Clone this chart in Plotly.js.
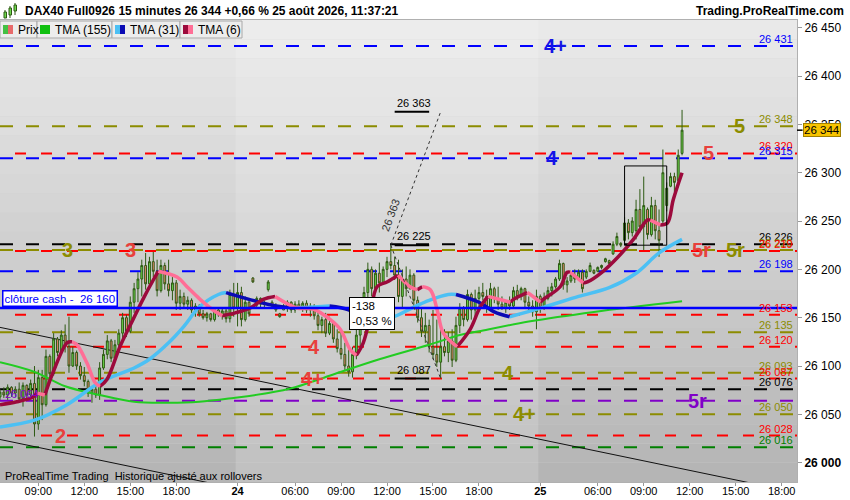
<!DOCTYPE html>
<html>
<head>
<meta charset="utf-8">
<script src="https://cdn.plot.ly/plotly-3.0.1.min.js"></script>
<style>body{margin:0;background:#fff}#chart{width:850px;height:500px}</style>
</head>
<body>
<div id="chart"></div>
<script>
// DAX40 Full0926, 15 min bars from 23 août 06:30 to 25 août 11:30 (night gaps collapsed, x = bar number)
var barOpen = [26068,26073,26070,26078,26072,26076,26066,26080,26070,26082,26040,26088,26060,26110,26092,26128,26114,26132,26120,26100,
  26114,26100,26090,26084,26072,26076,26070,26098,26112,26126,26108,26122,26134,26150,26136,26166,26180,26190,26204,26185,
  26208,26198,26178,26204,26185,26178,26186,26165,26172,26164,26168,26158,26162,26154,26150,26154,26148,26158,26153,26157,
  26149,26174,26160,26176,26148,26166,26191,26163,26170,26164,26179,26166,26162,26154,26158,26162,26166,26158,26164,26160,
  26165,26158,26162,26152,26142,26148,26134,26144,26128,26118,26112,26100,26094,26112,26132,26150,26176,26200,26180,26196,
  26186,26200,26208,26204,26194,26172,26190,26180,26194,26168,26150,26136,26142,26120,26112,26104,26120,26114,26126,26106,
  26142,26160,26148,26174,26158,26170,26176,26172,26160,26180,26170,26164,26160,26166,26162,26178,26172,26180,26166,26162,
  26156,26172,26160,26170,26178,26182,26190,26206,26184,26188,26194,26190,26197,26192,26198,26199,26198,26202,26208,26209,
  26216,26226,26227,26230,26248,26238,26240,26262,26244,26262,26236,26266,26240,26250,26266,26286,26296,26292,26320];
var barHigh = [26076,26078,26081,26079,26079,26083,26083,26081,26086,26100,26096,26096,26117,26112,26134,26130,26137,26143,26151,26120,
  26116,26104,26099,26086,26079,26083,26104,26117,26132,26128,26127,26138,26155,26153,26172,26186,26197,26210,26217,26213,
  26218,26210,26210,26207,26210,26192,26189,26179,26176,26172,26170,26165,26164,26158,26156,26155,26161,26161,26161,26161,
  26179,26186,26186,26182,26172,26168,26192,26172,26171,26168,26189,26168,26165,26155,26164,26168,26167,26167,26168,26167,
  26168,26165,26164,26158,26151,26155,26151,26145,26138,26135,26124,26117,26120,26138,26155,26182,26207,26203,26200,26207,
  26203,26213,26225,26213,26210,26200,26203,26200,26196,26172,26161,26155,26148,26158,26148,26138,26138,26135,26138,26151,
  26165,26162,26179,26176,26179,26182,26186,26179,26186,26182,26182,26172,26168,26172,26182,26184,26182,26181,26172,26168,
  26179,26174,26176,26182,26186,26192,26210,26207,26192,26197,26200,26200,26200,26200,26207,26200,26203,26205,26212,26210,
  26229,26238,26228,26254,26252,26254,26272,26283,26296,26264,26275,26272,26262,26324,26290,26300,26300,26324,26365];
var barLow = [26065,26067,26065,26068,26068,26062,26058,26065,26068,26027,26034,26044,26058,26086,26090,26110,26112,26114,26093,26099,
  26096,26086,26079,26068,26062,26067,26065,26096,26107,26104,26106,26117,26124,26130,26134,26155,26166,26172,26179,26183,
  26192,26172,26176,26179,26172,26168,26158,26158,26161,26158,26155,26151,26151,26148,26146,26146,26146,26151,26148,26145,
  26145,26151,26141,26141,26146,26151,26186,26161,26161,26160,26177,26160,26156,26150,26158,26156,26155,26155,26158,26156,
  26155,26151,26148,26137,26134,26130,26132,26124,26114,26107,26096,26089,26088,26107,26120,26148,26166,26172,26178,26176,
  26184,26192,26200,26189,26166,26161,26172,26179,26161,26145,26130,26124,26114,26107,26099,26087,26110,26104,26099,26104,
  26134,26141,26146,26148,26151,26161,26168,26155,26158,26165,26158,26158,26155,26158,26160,26168,26168,26161,26158,26151,
  26138,26155,26158,26168,26172,26180,26188,26179,26176,26186,26186,26189,26176,26190,26197,26195,26197,26200,26207,26205,
  26215,26224,26223,26228,26231,26234,26231,26238,26220,26231,26234,26231,26213,26248,26260,26285,26280,26290,26318];
var barClose = [26073,26070,26078,26072,26076,26066,26080,26070,26082,26040,26088,26060,26110,26092,26128,26114,26132,26120,26100,26114,
  26100,26090,26084,26072,26076,26070,26098,26112,26126,26108,26122,26134,26150,26136,26166,26180,26190,26204,26185,26208,
  26198,26178,26204,26185,26178,26186,26165,26172,26164,26168,26158,26162,26154,26150,26154,26148,26158,26153,26157,26149,
  26174,26160,26176,26148,26166,26154,26187,26170,26164,26166,26187,26162,26158,26151,26162,26166,26158,26164,26160,26165,
  26158,26162,26152,26142,26148,26134,26144,26128,26118,26112,26100,26094,26112,26132,26150,26176,26200,26180,26196,26186,
  26200,26208,26204,26194,26172,26190,26180,26194,26168,26150,26136,26142,26120,26112,26104,26120,26114,26126,26106,26142,
  26160,26148,26174,26158,26170,26176,26172,26160,26180,26170,26164,26160,26166,26162,26178,26172,26180,26166,26162,26156,
  26172,26160,26170,26178,26182,26190,26206,26184,26188,26194,26190,26197,26180,26198,26204,26196,26202,26204,26211,26206,
  26226,26234,26225,26248,26238,26250,26262,26244,26266,26236,26266,26240,26230,26300,26284,26296,26290,26318,26344];

// moving averages (bar number, value)
var tma155X = [0, 9, 17, 26, 35, 44, 52, 61, 70, 77, 86, 99, 112, 120, 125, 138, 155, 178];
var tma155Y = [26104, 26094, 26079, 26070, 26063, 26062, 26063, 26067, 26072, 26078, 26090, 26107, 26122, 26132, 26136, 26146, 26156, 26167];
var tma31X = [0, 9, 17.5, 26, 35, 39, 44, 48, 52, 57, 59, 65, 71, 77, 82, 86, 91, 95, 102, 108, 112, 117, 119, 125, 129, 133, 142, 151, 159, 166, 172, 178];
var tma31Y = [26037, 26044, 26060, 26083, 26098, 26107, 26124, 26141, 26161, 26174, 26176, 26169, 26163, 26160, 26161, 26162, 26158, 26148, 26150, 26161, 26168, 26174, 26174, 26166, 26156, 26151, 26161, 26172, 26181, 26196, 26217, 26231];
var tma6X = [0, 4.4, 8.6, 9.7, 11.7, 13.8, 17.5, 18.8, 20.1, 22.7, 24.8, 26.1, 27.9, 31.3, 34.7, 37.3, 40, 41.3, 46.2, 48.8,
  52.2, 55.6, 58, 61.4, 65.3, 68.7, 71.8, 77.5, 81.7, 86.2, 88.8, 91.4, 93, 94.8, 96.6, 98.4, 101, 103.9, 107, 108.9,
  110.2, 112.3, 114.1, 115.7, 119.3, 122.7, 125.3, 127.4, 133.2, 134, 137.6, 138.4, 141, 141.8, 146.2, 148, 148.8, 152.2, 153.3, 157.4,
  161.1, 165.3, 168.9, 169.7, 172.3, 174.2, 175.7, 178];
var tma6Y = [26060, 26063, 26068, 26072, 26070, 26093, 26124, 26125, 26122, 26103, 26083, 26079, 26086, 26120, 26148, 26169, 26189, 26198, 26192, 26182,
  26169, 26158, 26152, 26155, 26160, 26169, 26172, 26160, 26159, 26148, 26138, 26117, 26111, 26124, 26151, 26182, 26187, 26194, 26182, 26179,
  26182, 26179, 26158, 26134, 26120, 26138, 26161, 26172, 26166, 26169, 26176, 26174, 26166, 26169, 26182, 26197, 26197, 26186, 26187, 26198,
  26212, 26231, 26251, 26251, 26246, 26248, 26272, 26300];

// horizontal levels
var levelValues = [26431, 26348, 26320, 26315, 26226, 26220, 26219, 26198, 26153, 26135, 26120, 26093, 26087, 26076, 26064, 26050, 26028, 26016];
var levelColors = ['#0000ff', '#8c8c00', '#ff0000', '#0000ff', '#000000', '#8c8c00', '#ff0000', '#0000ff', '#ff0000', '#8c8c00',
  '#ff0000', '#8c8c00', '#ff0000', '#000000', '#8000c8', '#8c8c00', '#ff0000', '#008000'];
var cashClose = 26160;

// big zone labels
var zoneText = ['4+', '5', '5', '4', '3', '3', '5r', '5r', '4', '4+', '4', '4+', '5r', '2'];
var zoneX = [145, 193, 185, 144, 17.5, 34, 183, 192, 82, 81.5, 132.6, 137, 182, 15.7];
var zoneY = [26431, 26348, 26320, 26315, 26220, 26220, 26220, 26220, 26120, 26087, 26093, 26050, 26064, 26028];
var zoneColor = ['#1414e6', '#8c8c00', '#e8403c', '#1414e6', '#8c8c00', '#e8403c', '#e8403c', '#8c8c00', '#e8403c', '#e8403c',
  '#8c8c00', '#8c8c00', '#8000c8', '#e8403c'];

// projection from the 26 225 high
var projX = [102, 115];
var projBase = 26225;
var projMove = 138;
var boxX = [163, 174];
var boxY = [26225, 26307];
var trendX = [0, 208];
var trendUpper = [26140, 25969];
var trendLower = [26024, 25853];

var tickPos = [10, 22, 34, 46, 62, 77, 89, 101, 113, 125, 141, 156, 168, 180, 192, 204];
var tickText = ['09:00', '12:00', '15:00', '18:00', '<b>24</b>', '06:00', '09:00', '12:00', '15:00', '18:00', '<b>25</b>', '06:00', '09:00', '12:00', '15:00', '18:00'];
var priceTicks = [26000, 26050, 26100, 26150, 26200, 26250, 26300, 26350, 26400, 26450];
var lastPrice = 26344;

function fmt(v) { return String(v).replace(/\B(?=(\d{3})+(?!\d))/g, ' '); }
// pixel helpers for the chrome around the plot (plot is 797 x 462, top at 20)
function px(x) { return x / 797; }
function py(y) { return (482 - y) / 462; }

function splitByDirection(xs, ys) {
  var up = {x: [], y: []}, down = {x: [], y: []}, cur = null;
  for (var k = 1; k < xs.length; k++) {
    var run = ys[k] >= ys[k - 1] ? up : down;
    if (run !== cur) {
      if (cur) { cur.x.push(null); cur.y.push(null); }
      run.x.push(xs[k - 1]); run.y.push(ys[k - 1]);
      cur = run;
    }
    run.x.push(xs[k]); run.y.push(ys[k]);
  }
  return [up, down];
}

var barIndex = barClose.map(function (c, i) { return i; });

var data = [];
data.push({x: tma155X, y: tma155Y, type: 'scatter', mode: 'lines', line: {color: '#22cc22', width: 2, shape: 'spline'}});
var t31 = splitByDirection(tma31X, tma31Y);
data.push({x: t31[0].x, y: t31[0].y, type: 'scatter', mode: 'lines', line: {color: '#4cc0f4', width: 3.5, shape: 'spline'}});
data.push({x: t31[1].x, y: t31[1].y, type: 'scatter', mode: 'lines', line: {color: '#0a0ab4', width: 3.5, shape: 'spline'}});
data.push({
  x: barIndex, open: barOpen, high: barHigh, low: barLow, close: barClose,
  type: 'candlestick', whiskerwidth: 0,
  increasing: {line: {color: '#2e5a14', width: 1}, fillcolor: '#6cd84c'},
  decreasing: {line: {color: '#2e5a14', width: 1}, fillcolor: '#f08470'}
});
var t6 = splitByDirection(tma6X, tma6Y);
data.push({x: t6[0].x, y: t6[0].y, type: 'scatter', mode: 'lines', line: {color: '#9c0a3c', width: 3.5, shape: 'spline'}});
data.push({x: t6[1].x, y: t6[1].y, type: 'scatter', mode: 'lines', line: {color: '#ff6e96', width: 3.5, shape: 'spline'}});

var shapes = [];
var annotations = [];

// background gradient
var bands = 24;
for (var b = 0; b < bands; b++) {
  var g = Math.round(180 + (234 - 180) * (b + 0.5) / bands);
  shapes.push({type: 'rect', xref: 'paper', yref: 'paper', x0: 0, x1: 1, y0: b / bands, y1: (b + 1) / bands,
    fillcolor: 'rgb(' + g + ',' + g + ',' + g + ')', line: {width: 0}, layer: 'below'});
}
shapes.push({type: 'rect', xref: 'x', yref: 'paper', x0: 61.5, x1: 140.5, y0: 0, y1: 1,
  fillcolor: 'rgba(255,255,255,0.16)', line: {width: 0}, layer: 'below'});

// trend lines
shapes.push({type: 'line', xref: 'x', yref: 'y', x0: trendX[0], x1: trendX[1], y0: trendUpper[0], y1: trendUpper[1], line: {color: '#111', width: 1}, layer: 'below'});
shapes.push({type: 'line', xref: 'x', yref: 'y', x0: trendX[0], x1: trendX[1], y0: trendLower[0], y1: trendLower[1], line: {color: '#111', width: 1}, layer: 'below'});

// levels
levelValues.forEach(function (v, i) {
  var red = levelColors[i] === '#ff0000';
  shapes.push({type: 'line', xref: 'paper', yref: 'y', x0: 0, x1: 1, y0: v, y1: v, layer: 'below',
    line: {color: levelColors[i], width: 2, dash: red ? '0px,15px,11px,0px' : '13px,13px'}});
  var left = v === 26064;
  annotations.push({xref: 'paper', yref: 'y', x: left ? 0.004 : 0.997, y: v, text: fmt(v), showarrow: false,
    xanchor: left ? 'left' : 'right', yanchor: 'bottom', yshift: -1,
    font: {size: 11, color: levelColors[i]}});
});
shapes.push({type: 'line', xref: 'paper', yref: 'y', x0: 0, x1: 1, y0: cashClose, y1: cashClose, line: {color: '#0000ff', width: 2.5}});
annotations.push({xref: 'paper', yref: 'y', x: 0.002, y: cashClose, yshift: 1, text: 'clôture cash -  ' + fmt(cashClose), showarrow: false,
  xanchor: 'left', yanchor: 'bottom', bgcolor: '#ffffff', bordercolor: '#0000ff', borderwidth: 1.5, borderpad: 1,
  font: {size: 11.5, color: '#0000ff'}});

// projection
var projHigh = projBase + projMove, projLow = projBase - projMove;
shapes.push({type: 'line', xref: 'x', yref: 'y', x0: projX[0], x1: projX[1], y0: projBase, y1: projHigh, line: {color: '#333', width: 1, dash: '3px,3px'}});
shapes.push({type: 'line', xref: 'x', yref: 'y', x0: projX[0], x1: projX[1], y0: projBase, y1: projLow, line: {color: '#333', width: 1, dash: '3px,3px'}});
[projHigh, projBase, projLow].forEach(function (v) {
  shapes.push({type: 'line', xref: 'x', yref: 'y', x0: 103, x1: 112, y0: v, y1: v, line: {color: '#000', width: 2}});
  annotations.push({xref: 'x', yref: 'y', x: 108, y: v, text: fmt(v), showarrow: false, yanchor: 'bottom', yshift: 1,
    font: {size: 11, color: '#000'}});
});
annotations.push({xref: 'x', yref: 'y', x: 102, y: 26256, text: fmt(projHigh), showarrow: false, textangle: -70,
  font: {size: 11, color: '#333'}});
annotations.push({xref: 'x', yref: 'y', x: 91.2, y: 26171, text: '-' + projMove + '<br>-0,53 %', showarrow: false,
  xanchor: 'left', yanchor: 'top', align: 'left', bgcolor: '#ffffff', bordercolor: '#000', borderwidth: 1, borderpad: 2,
  font: {size: 11.5, color: '#000'}});
shapes.push({type: 'rect', xref: 'x', yref: 'y', x0: boxX[0], x1: boxX[1], y0: boxY[0], y1: boxY[1], line: {color: '#000', width: 1}});

// zone numbers
zoneText.forEach(function (t, i) {
  annotations.push({xref: 'x', yref: 'y', x: zoneX[i], y: zoneY[i], text: '<b>' + t + '</b>', showarrow: false,
    xanchor: 'center', yanchor: 'middle', font: {size: 20, color: zoneColor[i]}});
});

// last price marker
shapes.push({type: 'line', xref: 'paper', yref: 'y', x0: 1, x1: 1.007, y0: lastPrice, y1: lastPrice, line: {color: '#000', width: 1.5}});
annotations.push({xref: 'paper', yref: 'y', x: 1.008, y: lastPrice, text: fmt(lastPrice), showarrow: false, xanchor: 'left', yanchor: 'middle',
  bgcolor: '#f7c300', bordercolor: '#a08000', borderwidth: 1, borderpad: 0, font: {size: 11.5, color: '#000'}});

// header
annotations.push({xref: 'paper', yref: 'paper', x: px(23), y: py(11), xanchor: 'left', yanchor: 'middle', showarrow: false,
  text: '<b>DAX40 Full0926 15 minutes 26 344 +0,66 % 25 août 2026, 11:37:21</b>', font: {size: 12, color: '#000'}});
annotations.push({xref: 'paper', yref: 'paper', x: px(846), y: py(11), xanchor: 'right', yanchor: 'middle', showarrow: false,
  text: '<b>Trading.ProRealTime.com</b>', font: {size: 12, color: '#000'}});
[[4, 10, 16, 13], [9, 6, 13, 15], [14, 3, 9, 12]].forEach(function (c) {
  shapes.push({type: 'line', xref: 'paper', yref: 'paper', x0: px(c[0] + 1), x1: px(c[0] + 1), y0: py(c[1]), y1: py(c[3] + 3), line: {color: '#2e5a14', width: 1}});
  shapes.push({type: 'rect', xref: 'paper', yref: 'paper', x0: px(c[0]), x1: px(c[0] + 2.5), y0: py(c[1] + 2), y1: py(c[2] + 2), fillcolor: '#6cd84c', line: {color: '#2e5a14', width: 1}});
});

// legend strip
var cells = [[0, 37, 'Prix', ['#44c044', '#e86a6a']], [37, 112, 'TMA (155)', ['#10c010']], [112, 180, 'TMA (31)', ['#4cc0f4', '#0a0ab4']], [180, 242, 'TMA (6)', ['#9c0a3c', '#ff6e96']]];
cells.forEach(function (c) {
  shapes.push({type: 'rect', xref: 'paper', yref: 'paper', x0: px(c[0]), x1: px(c[1]), y0: py(38), y1: py(21),
    fillcolor: '#ededed', line: {color: '#a8a8a8', width: 1}});
  var sw = 10 / c[3].length;
  c[3].forEach(function (col, k) {
    shapes.push({type: 'rect', xref: 'paper', yref: 'paper', x0: px(c[0] + 3 + k * sw), x1: px(c[0] + 3 + (k + 1) * sw), y0: py(34), y1: py(25),
      fillcolor: col, line: {width: 0}});
  });
  annotations.push({xref: 'paper', yref: 'paper', x: px(c[0] + 16), y: py(29.5), xanchor: 'left', yanchor: 'middle', showarrow: false,
    text: c[2], font: {size: 12, color: '#000'}});
});

annotations.push({xref: 'paper', yref: 'paper', x: px(3), y: py(476), xanchor: 'left', yanchor: 'middle', showarrow: false,
  text: 'ProRealTime Trading  Historique ajusté aux rollovers', font: {size: 11, color: '#000'}});

var layout = {
  width: 850, height: 500,
  margin: {l: 0, r: 53, t: 20, b: 18, pad: 0},
  paper_bgcolor: '#ffffff',
  plot_bgcolor: '#d0d0d0',
  showlegend: false,
  hovermode: false,
  dragmode: false,
  font: {family: '"Liberation Sans", Arial, sans-serif', size: 11, color: '#000'},
  xaxis: {range: [0, 208], showgrid: false, zeroline: false, rangeslider: {visible: false},
    tickmode: 'array', tickvals: tickPos, ticktext: tickText, ticks: 'outside', ticklen: 3, tickcolor: '#999',
    ticklabelstandoff: -4,
    showline: true, linecolor: '#b0b0b0', mirror: true, tickfont: {size: 11}},
  yaxis: {side: 'right', range: [25980, 26458], showgrid: false, zeroline: false,
    tickmode: 'array', tickvals: priceTicks,
    ticktext: priceTicks.map(function (v) { return v === 26000 ? '<b>' + fmt(v) + '</b>' : fmt(v); }),
    ticks: 'outside', ticklen: 4, tickcolor: '#999', showline: true, linecolor: '#b0b0b0', tickfont: {size: 12}},
  shapes: shapes,
  annotations: annotations
};

Plotly.newPlot('chart', data, layout, {displayModeBar: false, staticPlot: true});
</script>
</body>
</html>
